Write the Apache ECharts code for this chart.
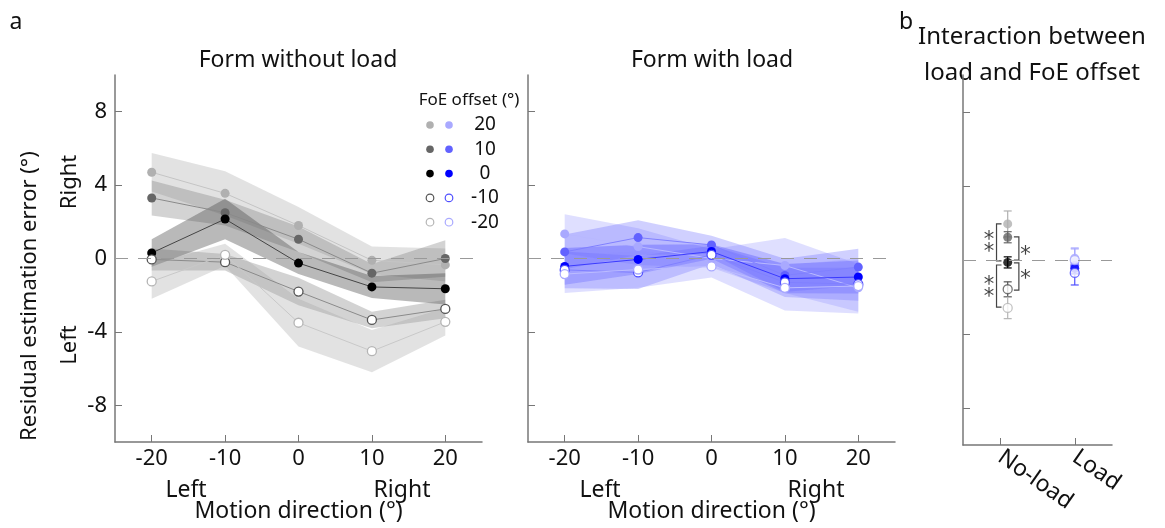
<!DOCTYPE html>
<html>
<head>
<meta charset="utf-8">
<script src="https://cdn.jsdelivr.net/npm/echarts@6/dist/echarts.min.js"></script>
<style>
  html, body { margin: 0; background: #fff; }
  #chart { width: 1165px; height: 528px; }
</style>
</head>
<body>
<div id="chart"></div>
<script>
var directions = [-20, -10, 0, 10, 20];
var offsets = ['20', '10', '0', '-10', '-20'];
var xTicks = [-20, -10, 0, 10, 20];
var yTicks = [-8, -4, 0, 4, 8];
var conditions = ['No-load', 'Load'];

// panel a, form without load: mean and CI half width, rows = FoE offset, cols = direction
var noLoadMean = [
  [4.7, 3.55, 1.8, -0.1, -0.35],
  [3.3, 2.5, 1.05, -0.8, 0.0],
  [0.3, 2.15, -0.25, -1.55, -1.65],
  [-0.05, -0.2, -1.8, -3.35, -2.75],
  [-1.25, 0.2, -3.5, -5.05, -3.45]
];
var noLoadHalf = [
  [1.05, 1.2, 1.0, 0.75, 0.9],
  [0.95, 0.7, 0.7, 0.5, 1.0],
  [0.75, 1.1, 0.6, 0.6, 0.85],
  [0.6, 0.45, 0.75, 0.45, 0.5],
  [0.95, 0.6, 1.3, 1.15, 0.75]
];
// form with load
var loadMean = [
  [1.34, 0.65, 0.0, -0.38, -1.6],
  [0.36, 1.14, 0.74, -0.92, -0.47],
  [-0.43, -0.05, 0.38, -1.1, -1.01],
  [-0.62, -0.76, 0.2, -1.3, -1.4],
  [-0.85, -0.6, -0.43, -1.6, -1.5]
];
var loadHalf = [
  [1.07, 1.0, 0.5, 1.5, 1.3],
  [0.95, 0.95, 0.5, 0.9, 1.0],
  [1.0, 0.8, 0.4, 0.8, 0.9],
  [1.0, 0.9, 0.5, 0.8, 0.9],
  [1.03, 1.0, 0.6, 1.23, 1.5]
];

// panel b, interaction
var noLoadOffsetMean = [1.95, 1.23, -0.13, -1.58, -2.59];
var noLoadOffsetErr = [0.7, 0.3, 0.3, 0.4, 0.58];
var loadOffsetMean = [0.1, -0.3, -0.45, -0.7, 0.0];
var loadOffsetErr = [0.55, 0.35, 0.3, 0.65, 0.6];
var noLoadX = 0.1, loadX = 1.0;
// brackets: x, y from, y to, side the caps point to
var brackets = [
  [-0.05, 1.95, -0.05, 1],
  [-0.05, -0.27, -2.55, 1],
  [0.25, 1.25, 0.0, -1],
  [0.25, -0.16, -1.63, -1]
];
var stars = [
  [-0.15, 1.0, '*\n*'],
  [-0.15, -1.45, '*\n*'],
  [0.34, 0.5, '*'],
  [0.34, -0.8, '*']
];

var grayColors = ['#b0b0b0', '#666666', '#000000', '#555555', '#b5b5b5'];
var grayLines = ['#c4c4c4', '#8a8a8a', '#444444', '#8a8a8a', '#c8c8c8'];
var grayFills = ['rgba(160,160,160,0.3)', 'rgba(110,110,110,0.3)', 'rgba(70,70,70,0.38)', 'rgba(110,110,110,0.3)', 'rgba(160,160,160,0.3)'];
var blueColors = ['#a9a9ff', '#6262ff', '#0000ff', '#5050ff', '#a9a9ff'];
var blueLines = ['#b8b8ff', '#8080ff', '#3a3aff', '#8080ff', '#bcbcff'];
var blueFills = ['rgba(140,140,255,0.28)', 'rgba(100,100,255,0.3)', 'rgba(60,60,255,0.3)', 'rgba(100,100,255,0.3)', 'rgba(140,140,255,0.28)'];
var hollow = [false, false, false, true, true];

var font = 'Noto Sans';
var axisGray = '#777';

function bandSeries(gi, mean, half, fill) {
  var data = directions.map(function (d, i) { return [d, mean[i] - half[i], mean[i] + half[i]]; });
  return {
    type: 'custom', xAxisIndex: gi, yAxisIndex: gi, silent: true, z: 1,
    data: data, encode: {x: 0, y: [1, 2]},
    renderItem: function (params, api) {
      if (params.dataIndex !== 0) return;
      var upper = [], lower = [];
      data.forEach(function (p) {
        upper.push(api.coord([p[0], p[2]]));
        lower.unshift(api.coord([p[0], p[1]]));
      });
      return {type: 'polygon', shape: {points: upper.concat(lower)}, style: {fill: fill}};
    }
  };
}

function lineSeries(gi, k, mean, colors, lines) {
  return {
    type: 'line', xAxisIndex: gi, yAxisIndex: gi, z: 3,
    data: directions.map(function (d, i) { return [d, mean[i]]; }),
    symbol: 'circle', symbolSize: 9,
    itemStyle: {color: hollow[k] ? '#fff' : colors[k], borderColor: colors[k], borderWidth: hollow[k] ? 1.3 : 0},
    lineStyle: {color: lines[k], width: 1}
  };
}

function zeroLine() {
  return {silent: true, symbol: 'none', label: {show: false},
    lineStyle: {color: '#999', type: [13, 10], width: 1}, data: [{yAxis: 0}]};
}

function errSeries(x, mean, err, colors) {
  return {
    type: 'custom', xAxisIndex: 2, yAxisIndex: 2, z: 2, silent: true,
    data: mean.map(function (m, k) { return [x, m, err[k], k]; }),
    renderItem: function (params, api) {
      var xv = api.value(0), m = api.value(1), e = api.value(2), k = api.value(3);
      var top = api.coord([xv, m + e]), bot = api.coord([xv, m - e]);
      var st = {stroke: colors[k], lineWidth: 1.2};
      return {type: 'group', children: [
        {type: 'line', shape: {x1: top[0], y1: top[1], x2: bot[0], y2: bot[1]}, style: st},
        {type: 'line', shape: {x1: top[0] - 4, y1: top[1], x2: top[0] + 4, y2: top[1]}, style: st},
        {type: 'line', shape: {x1: bot[0] - 4, y1: bot[1], x2: bot[0] + 4, y2: bot[1]}, style: st}
      ]};
    }
  };
}

function pointSeries(x, mean, colors) {
  return {
    type: 'scatter', xAxisIndex: 2, yAxisIndex: 2, z: 3, symbolSize: 9,
    data: mean.map(function (m, k) {
      return {value: [x, m], itemStyle: {color: hollow[k] ? '#fff' : colors[k], borderColor: colors[k], borderWidth: hollow[k] ? 1.3 : 0}};
    })
  };
}

var series = [];
[0, 1].forEach(function (gi) {
  var mean = gi === 0 ? noLoadMean : loadMean;
  var half = gi === 0 ? noLoadHalf : loadHalf;
  var fills = gi === 0 ? grayFills : blueFills;
  mean.forEach(function (m, k) { series.push(bandSeries(gi, m, half[k], fills[k])); });
});
[0, 1].forEach(function (gi) {
  var mean = gi === 0 ? noLoadMean : loadMean;
  var colors = gi === 0 ? grayColors : blueColors;
  var lines = gi === 0 ? grayLines : blueLines;
  mean.forEach(function (m, k) {
    var s = lineSeries(gi, k, m, colors, lines);
    if (k === 0) s.markLine = zeroLine();
    series.push(s);
  });
});
var nlErr = errSeries(noLoadX, noLoadOffsetMean, noLoadOffsetErr, grayColors);
nlErr.markLine = zeroLine();
series.push(nlErr);
series.push(errSeries(loadX, loadOffsetMean, loadOffsetErr, blueColors));
series.push(pointSeries(noLoadX, noLoadOffsetMean, grayColors));
series.push(pointSeries(loadX, loadOffsetMean, blueColors));
series.push({
  type: 'custom', xAxisIndex: 2, yAxisIndex: 2, z: 2, silent: true,
  data: brackets,
  renderItem: function (params, api) {
    var a = api.coord([api.value(0), api.value(1)]);
    var b = api.coord([api.value(0), api.value(2)]);
    var d = api.value(3) * 5;
    return {type: 'polyline', shape: {points: [[a[0] + d, a[1]], a, b, [b[0] + d, b[1]]]},
      style: {stroke: '#444', lineWidth: 1.2, fill: null}};
  }
});
series.push({
  type: 'scatter', xAxisIndex: 2, yAxisIndex: 2, z: 4, silent: true, symbolSize: 0,
  data: stars.map(function (s) { return {value: [s[0], s[1]], name: s[2]}; }),
  label: {show: true, position: 'inside', formatter: '{b}', color: '#111', fontSize: 21, lineHeight: 12, fontFamily: 'DejaVu Sans', offset: [0, 5]}
});

function yAxisOf(gi, showLabels) {
  return {
    type: 'value', gridIndex: gi, min: -10, max: 10,
    axisLine: {show: true, onZero: false, lineStyle: {color: axisGray, width: 1.5}},
    axisTick: {show: true, inside: true, length: 7, customValues: yTicks, lineStyle: {color: axisGray}},
    axisLabel: {show: showLabels, customValues: yTicks, fontSize: 22, color: '#111', margin: 8, fontFamily: font},
    splitLine: {show: false}
  };
}
function xAxisOf(gi) {
  return {
    type: 'value', gridIndex: gi, min: -25, max: 25,
    name: 'Motion direction (°)', nameLocation: 'middle', nameGap: 58,
    nameTextStyle: {fontSize: 23, color: '#111', fontFamily: font},
    axisLine: {show: true, onZero: false, lineStyle: {color: axisGray, width: 1.5}},
    axisTick: {show: true, inside: true, length: 7, customValues: xTicks, lineStyle: {color: axisGray}},
    axisLabel: {customValues: xTicks, fontSize: 22, color: '#111', margin: 6, fontFamily: font},
    splitLine: {show: false}
  };
}

var legendGraphics = [{type: 'text', x: 469, y: 100, style: {text: 'FoE offset (°)', fontSize: 17, fill: '#111', align: 'center', verticalAlign: 'middle', fontFamily: font}}];
offsets.forEach(function (o, k) {
  var cy = 125 + k * 24.3;
  [[430, grayColors[k]], [449, blueColors[k]]].forEach(function (p) {
    legendGraphics.push({type: 'circle', shape: {cx: p[0], cy: cy, r: 3.8},
      style: {fill: hollow[k] ? '#fff' : p[1], stroke: p[1], lineWidth: hollow[k] ? 1.2 : 0}});
  });
  legendGraphics.push({type: 'text', x: 485, y: cy, style: {text: o, fontSize: 19, fill: '#111', align: 'center', verticalAlign: 'middle', fontFamily: font}});
});

function label(text, x, y, size, rot) {
  return {type: 'text', x: x, y: y, rotation: rot || 0,
    style: {text: text, fontSize: size, fill: '#111', align: 'center', verticalAlign: 'middle', fontFamily: font, lineHeight: 36}};
}

var option = {
  animation: false,
  grid: [
    {left: 115, top: 75, width: 367, height: 370},
    {left: 528, top: 75, width: 367, height: 370},
    {left: 963, top: 75, width: 149, height: 370}
  ],
  xAxis: [xAxisOf(0), xAxisOf(1), {
    type: 'value', gridIndex: 2, min: -0.5, max: 1.5,
    axisLine: {show: true, onZero: false, lineStyle: {color: axisGray, width: 1.5}},
    axisTick: {show: true, inside: true, length: 7, customValues: [0, 1], lineStyle: {color: axisGray}},
    axisLabel: {customValues: [0, 1], rotate: -35, fontSize: 23, color: '#111', margin: 10, fontFamily: font,
      formatter: function (v) { return conditions[Math.round(v)]; }},
    splitLine: {show: false}
  }],
  yAxis: [yAxisOf(0, true), yAxisOf(1, false), yAxisOf(2, false)],
  graphic: legendGraphics.concat([
    label('a', 16, 22, 23),
    label('b', 906, 22, 23),
    label('Form without load', 298, 60, 23),
    label('Form with load', 712, 60, 23),
    label('Interaction between\nload and FoE offset', 1032, 55, 24),
    label('Residual estimation error (°)', 30, 296, 22, Math.PI / 2),
    label('Right', 70, 182, 22, Math.PI / 2),
    label('Left', 70, 345, 22, Math.PI / 2),
    label('Left', 186, 490, 23),
    label('Right', 402, 490, 23),
    label('Left', 600, 490, 23),
    label('Right', 816, 490, 23)
  ]),
  series: series
};

var chart = echarts.init(document.getElementById('chart'));
chart.setOption(option);
</script>
</body>
</html>
